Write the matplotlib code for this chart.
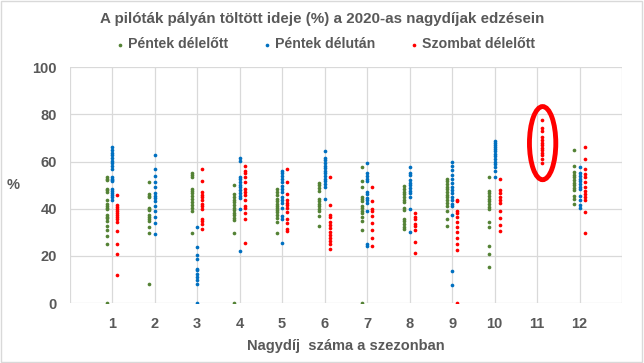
import numpy as np
import matplotlib.pyplot as plt
from matplotlib.patches import Ellipse

plt.rcParams['font.family'] = ['Liberation Sans', 'DejaVu Sans']

races = list(range(1, 13))
series_names = ['Péntek délelőtt', 'Péntek délután', 'Szombat délelőtt']
series_colors = ['#548235', '#0070C0', '#FF0000']

# time on track (%) per race, one list per session
pentek_de = [
    [53.3, 52.5, 52.1, 48.4, 47.9, 47.2, 43.9, 42.2, 41.2, 40.5, 39.9, 37.3, 36.6, 35.9, 34.9, 32.6, 30.9, 28.5, 25.0, 0.0],
    [51.3, 46.2, 45.6, 45.0, 40.5, 40.0, 39.4, 37.2, 36.3, 35.5, 34.6, 32.3, 29.8, 8.3],
    [55.2, 54.1, 53.3, 48.4, 47.6, 46.5, 45.3, 44.2, 42.8, 41.7, 40.3, 39.1, 29.8],
    [50.1, 46.2, 45.0, 43.9, 42.8, 41.7, 40.5, 39.4, 38.3, 37.2, 36.0, 35.2, 29.8, 0.0],
    [48.2, 47.0, 45.9, 44.2, 43.1, 41.9, 41.1, 40.3, 39.4, 38.6, 37.4, 36.0, 34.3, 29.8],
    [51.0, 49.9, 48.7, 47.6, 44.2, 43.3, 42.2, 41.1, 40.0, 39.1, 36.9, 32.6],
    [57.5, 51.6, 49.3, 45.0, 44.2, 43.3, 41.1, 40.3, 39.1, 38.0, 36.6, 34.9, 30.9, 0.0],
    [49.6, 48.4, 47.3, 46.2, 45.0, 43.9, 42.8, 40.5, 39.4, 35.7, 34.6, 33.5, 32.3, 31.2],
    [52.7, 51.6, 50.4, 49.3, 48.2, 47.0, 45.9, 44.8, 43.6, 42.5, 41.1, 38.9, 35.7, 32.6],
    [53.3, 47.6, 46.5, 45.3, 44.2, 43.1, 41.9, 40.8, 39.7, 34.3, 32.3, 24.2, 21.0, 15.1],
    [],
    [65.1, 58.1, 55.5, 54.4, 53.3, 52.1, 51.0, 49.9, 48.7, 47.9, 45.3, 44.2, 42.2],
]
pentek_du = [
    [66.0, 64.8, 63.7, 62.6, 61.4, 60.3, 59.2, 58.1, 56.7, 53.5, 52.7, 52.1, 51.6, 48.4, 47.6, 46.7, 45.9, 44.8, 43.6],
    [62.8, 56.7, 53.8, 51.3, 49.0, 46.7, 45.6, 44.5, 43.3, 41.1, 38.9, 36.6, 34.0, 29.2],
    [32.3, 23.6, 20.2, 18.8, 14.5, 14.0, 12.3, 11.1, 9.7, 8.1, 0.0],
    [61.4, 60.3, 53.5, 52.4, 51.3, 50.1, 49.0, 47.9, 46.7, 45.6, 44.5, 40.0, 22.2],
    [56.1, 55.0, 53.8, 52.7, 51.3, 49.6, 48.4, 47.0, 44.8, 43.6, 42.5, 40.5, 36.9, 35.5, 25.3],
    [64.5, 61.7, 60.6, 59.4, 58.3, 57.2, 56.1, 55.0, 53.8, 52.7, 51.6, 50.4, 49.3, 44.2],
    [59.2, 55.0, 53.8, 52.7, 51.6, 47.0, 46.2, 44.5, 43.6, 42.5, 39.1, 25.0, 24.2],
    [57.5, 55.2, 54.1, 52.1, 51.0, 49.9, 48.7, 47.6, 46.5, 45.0, 39.7, 30.1],
    [60.0, 58.1, 56.4, 54.1, 52.4, 50.7, 49.3, 47.9, 46.5, 45.0, 43.6, 42.2, 41.1, 37.4, 13.7, 7.8],
    [68.8, 67.9, 67.1, 66.2, 65.4, 64.5, 63.4, 62.3, 61.1, 60.0, 58.9, 57.5, 55.8, 53.5],
    [],
    [57.5, 55.0, 53.8, 52.7, 51.6, 50.4, 49.3, 48.2, 45.6, 43.6, 41.7, 40.5],
]
szombat_de = [
    [45.9, 41.7, 40.8, 40.0, 39.1, 38.3, 37.4, 36.6, 35.7, 34.3, 30.6, 25.0, 21.0, 11.9],
    [],
    [56.9, 51.8, 47.3, 45.9, 44.8, 43.6, 42.2, 41.1, 40.0, 35.7, 34.9, 33.5, 31.5],
    [58.3, 55.8, 55.2, 53.3, 51.3, 48.2, 47.3, 45.9, 43.6, 41.1, 40.5, 38.3, 35.5, 25.5],
    [56.7, 51.3, 46.2, 43.9, 42.5, 41.4, 40.5, 38.6, 35.7, 33.8, 31.5, 30.6],
    [53.3, 41.4, 37.2, 36.3, 34.3, 33.2, 31.8, 30.1, 28.9, 27.8, 26.4, 25.0, 23.0],
    [49.0, 43.1, 40.0, 39.1, 36.9, 34.0, 30.9, 27.5, 24.4],
    [38.3, 36.3, 35.5, 33.5, 32.6, 30.9, 26.1, 21.3],
    [43.9, 43.1, 39.1, 38.0, 36.3, 34.3, 32.3, 30.1, 27.5, 25.0, 22.5, 0.0],
    [52.4, 47.9, 46.7, 44.8, 43.6, 42.5, 39.1, 36.0, 33.2, 30.4],
    [77.5, 74.4, 72.8, 70.5, 69.1, 67.9, 67.1, 65.7, 64.8, 63.7, 62.6, 60.9, 59.2],
    [66.0, 60.9, 56.9, 54.7, 53.3, 51.3, 49.3, 47.6, 46.2, 44.8, 43.6, 38.6, 29.8],
]

offsets = [-0.12, 0.0, 0.12]
gray = '#595959'

fig = plt.figure(figsize=(6.44, 3.63), dpi=100)
ax = fig.add_axes([0.108, 0.165, 0.858, 0.65])

for data, name, color, off in zip([pentek_de, pentek_du, szombat_de], series_names, series_colors, offsets):
    xs, ys = [], []
    for r, vals in zip(races, data):
        xs += [r + off] * len(vals)
        ys += vals
    ax.scatter(xs, ys, s=7, color=color, label=name, zorder=3, linewidths=0)

# highlight race 11
ax.add_patch(Ellipse((11.13, 67.8), 0.62, 31, fill=False, edgecolor='#FF0000', lw=3.5, zorder=4))

ax.set_xlim(0, 13)
ax.set_ylim(0, 100)
ax.set_xticks(range(0, 14))
ax.set_xticklabels([''] + [str(r) for r in races] + [''])
ax.set_yticks(range(0, 101, 20))
ax.grid(True, color='#D9D9D9', lw=0.9, zorder=0)
ax.set_axisbelow(True)
for s in ax.spines.values():
    s.set_visible(False)
ax.tick_params(length=0, labelsize=10.5, labelcolor=gray)
ax.tick_params(axis='x', pad=10)
ax.tick_params(axis='y', pad=9)
for lbl in ax.get_xticklabels() + ax.get_yticklabels():
    lbl.set_fontweight('bold')

ax.set_xlabel('Nagydíj  száma a szezonban', fontsize=10.5, fontweight='bold', color=gray, labelpad=6)
ax.set_ylabel('%', fontsize=10.5, fontweight='bold', color=gray, rotation=0, labelpad=14, va='center')

fig.text(0.5, 0.948, 'A pilóták pályán töltött ideje (%) a 2020-as nagydíjak edzésein',
         ha='center', va='center', fontsize=10.9, fontweight='bold', color=gray)
leg = fig.legend(loc='center', bbox_to_anchor=(0.505, 0.878), ncol=3, frameon=False,
                 markerscale=1.0, handlelength=0.6, handletextpad=0.3, columnspacing=2.4,
                 prop={'size': 10.2, 'weight': 'bold'}, labelcolor=gray)

fig.patches.append(plt.Rectangle((0.002, 0.003), 0.995, 0.993, transform=fig.transFigure,
                                 fill=False, edgecolor='#D9D9D9', lw=1))

fig.savefig('out.png', dpi=100)
